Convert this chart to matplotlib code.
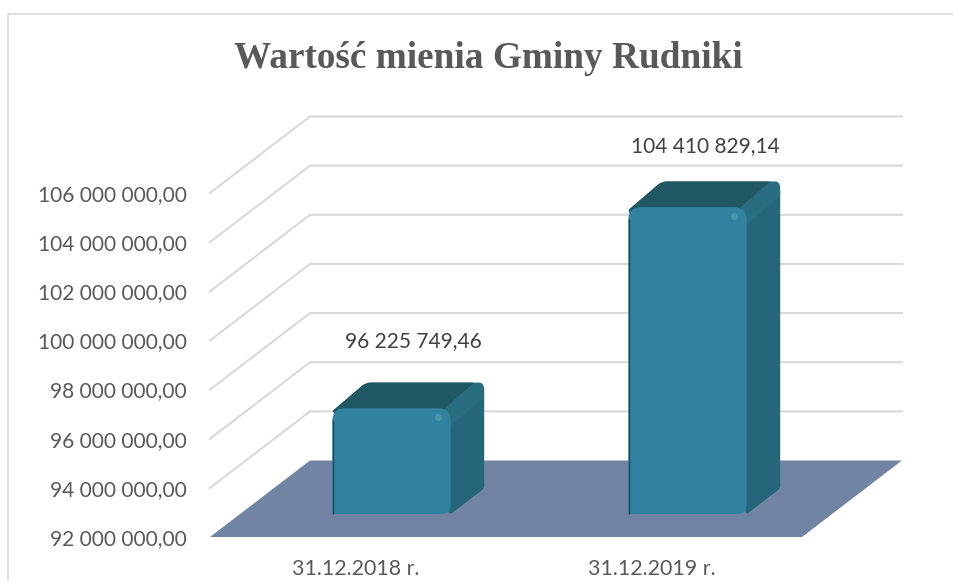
import matplotlib
matplotlib.use("Agg")
import matplotlib.pyplot as plt
from matplotlib.path import Path
from matplotlib.patches import PathPatch, Polygon
from matplotlib.lines import Line2D

title = "Wartość mienia Gminy Rudniki"
categories = ["31.12.2018 r.", "31.12.2019 r."]
values = [96225749.46, 104410829.14]
value_labels = ["96 225 749,46", "104 410 829,14"]
y_ticks = [92e6, 94e6, 96e6, 98e6, 100e6, 102e6, 104e6, 106e6]
y_tick_labels = ["92 000 000,00", "94 000 000,00", "96 000 000,00", "98 000 000,00",
                 "100 000 000,00", "102 000 000,00", "104 000 000,00", "106 000 000,00"]

W, H = 954, 581
X0, X1, Y0, Y1 = 210, 802, 537, 193
DEPTH_PX_X, DEPTH_PX_Y = 100, 76.5
PX_PER_X = (X1 - X0) / 2
PX_PER_V = (Y0 - Y1) / (y_ticks[-1] - y_ticks[0])

C_GRID = "#D9D9D9"
C_TEXT = "#595959"
C_FLOOR = "#7184A4"
C_FRONT = "#31829E"
C_SIDE = "#25667A"
C_TOP = "#205864"
C_BEVEL = "#286E80"
C_EDGE = "#174E5C"

fig = plt.figure(figsize=(W / 100, H / 100), dpi=100, facecolor="white")
ax = fig.add_axes([X0 / W, 1 - Y0 / H, (X1 - X0) / W, (Y0 - Y1) / H])
ax.set_xlim(0, 2)
ax.set_ylim(y_ticks[0], y_ticks[-1])
for s in ax.spines.values():
    s.set_visible(False)
ax.patch.set_visible(False)


def P(x, v, d=0.0):
    """Project a point at depth d onto the front plane, in data coordinates."""
    return (x + d * DEPTH_PX_X / PX_PER_X, v + d * DEPTH_PX_Y / PX_PER_V)


def rounded(points, radii):
    """Closed polygon in data coordinates with corner radii given in pixels."""
    def to_px(p):
        return (p[0] * PX_PER_X, p[1] * PX_PER_V)

    def to_data(p):
        return (p[0] / PX_PER_X, p[1] / PX_PER_V)

    n = len(points)
    verts, codes = [], []
    for i in range(n):
        a, b, c = to_px(points[i - 1]), to_px(points[i]), to_px(points[(i + 1) % n])
        r = radii[i]

        def toward(p, q):
            dx, dy = q[0] - p[0], q[1] - p[1]
            L = (dx * dx + dy * dy) ** 0.5
            k = min(r / L, 0.5) if L else 0
            return (p[0] + dx * k, p[1] + dy * k)
        s, e = toward(b, a), toward(b, c)
        verts.append(to_data(s))
        codes.append(Path.MOVETO if i == 0 else Path.LINETO)
        verts += [to_data(b), to_data(e)]
        codes += [Path.CURVE3, Path.CURVE3]
    verts.append(verts[0])
    codes.append(Path.CLOSEPOLY)
    return Path(verts, codes)


# gridlines: front edge to the back wall, then along the back wall
for v in y_ticks[1:]:
    pts = [P(0, v), P(0, v, 1), P(2, v, 1)]
    ax.plot(*zip(*pts), color=C_GRID, lw=1.5, clip_on=False, zorder=1,
            solid_joinstyle="round")

# floor
ax.add_patch(Polygon([P(0, y_ticks[0]), P(0, y_ticks[0], 1), P(2, y_ticks[0], 1), P(2, y_ticks[0])],
                     closed=True, fc=C_FLOOR, ec="none", clip_on=False, zorder=2))

# bars
BAR_W = 0.40
BAR_SHIFT = 3.5 / PX_PER_X
TOP_LIFT = 2 / PX_PER_V
CORNER_DROP = 3 / PX_PER_V
D0, D1 = 0.30, 0.635
base = y_ticks[0]
for i, val in enumerate(values):
    xl, xr = i + 0.5 - BAR_W / 2 + BAR_SHIFT, i + 0.5 + BAR_W / 2 + BAR_SHIFT
    vt = val + TOP_LIFT
    # side + top silhouette
    sil = [P(xl, vt - CORNER_DROP, D0), P(xl, vt, D1), P(xr, vt, D1), P(xr, base, D1), P(xr, base, D0)]
    ax.add_patch(PathPatch(rounded(sil, [1, 5, 13, 3, 1]), fc=C_SIDE, ec="none", clip_on=False, zorder=3))
    # top face
    top = [P(xl, vt - CORNER_DROP, D0), P(xl, vt, D1), P(xr, vt, D1), P(xr, vt - CORNER_DROP, D0)]
    ax.add_patch(PathPatch(rounded(top, [1, 5, 13, 1]), fc=C_TOP, ec="none", clip_on=False, zorder=4))
    # lighter bevel from the front top corner to the back top corner
    bevel = [P(xr - 6 / PX_PER_X, vt, D0), P(xr - 10 / PX_PER_X, vt, D1), P(xr, vt, D1),
             P(xr, vt - 14 / PX_PER_V, D1), P(xr, vt - 18 / PX_PER_V, D0)]
    ax.add_patch(PathPatch(rounded(bevel, [1, 2, 13, 1, 1]), fc=C_BEVEL, ec="none", clip_on=False, zorder=4.5))
    # front face
    front = [P(xl, base, D0), P(xl, vt, D0), P(xr, vt, D0), P(xr, base, D0)]
    ax.add_patch(PathPatch(rounded(front, [1, 13, 13, 9]), fc=C_FRONT, ec="none", clip_on=False, zorder=5))
    # dark left edge
    ax.plot(*zip(P(xl + 0.4 / PX_PER_X, base, D0), P(xl + 0.4 / PX_PER_X, vt - 12 / PX_PER_V, D0)),
            color=C_EDGE, lw=1.0, clip_on=False, zorder=6, solid_capstyle="butt")
    # small specular highlight
    hx, hy = P(xr - 13 / PX_PER_X, vt - 9 / PX_PER_V, D0)
    ax.plot([hx], [hy], marker="o", ms=5, color="#4F9AB3", mec="none", alpha=0.8, clip_on=False, zorder=6)

# value labels
label_offsets_px = [(25, 69), (21.5, 63)]
for i, val in enumerate(values):
    ax.annotate(value_labels[i], xy=P(i + 0.5, val, D0), xytext=label_offsets_px[i],
                textcoords="offset pixels", ha="center", va="center",
                fontsize=15, family="Lato", color="#404040", zorder=7, annotation_clip=False)

# axes ticks and labels
TICK_SHIFT = 2 / PX_PER_X
ax.set_yticks(y_ticks)
ax.set_yticklabels(y_tick_labels, fontsize=15, family="Lato", color=C_TEXT)
ax.set_xticks([0.5 - TICK_SHIFT, 1.5 - TICK_SHIFT])
ax.set_xticklabels(categories, fontsize=15.4, family="Lato", color=C_TEXT)
ax.tick_params(axis="y", length=0, pad=17)
ax.tick_params(axis="x", length=0, pad=15.5)

# title
fig.text(488.5 / W, 1 - 58.5 / H, title, ha="center", va="center", fontsize=26.8,
         family="Liberation Serif", fontweight="bold", color=C_TEXT)

# chart frame (left and top edges only are visible)
fig.add_artist(Line2D([8.5 / W, 8.5 / W, 1], [0, 1 - 14 / H, 1 - 14 / H], color=C_GRID, lw=1.2))

fig.savefig("out.png", dpi=100, facecolor="white")
